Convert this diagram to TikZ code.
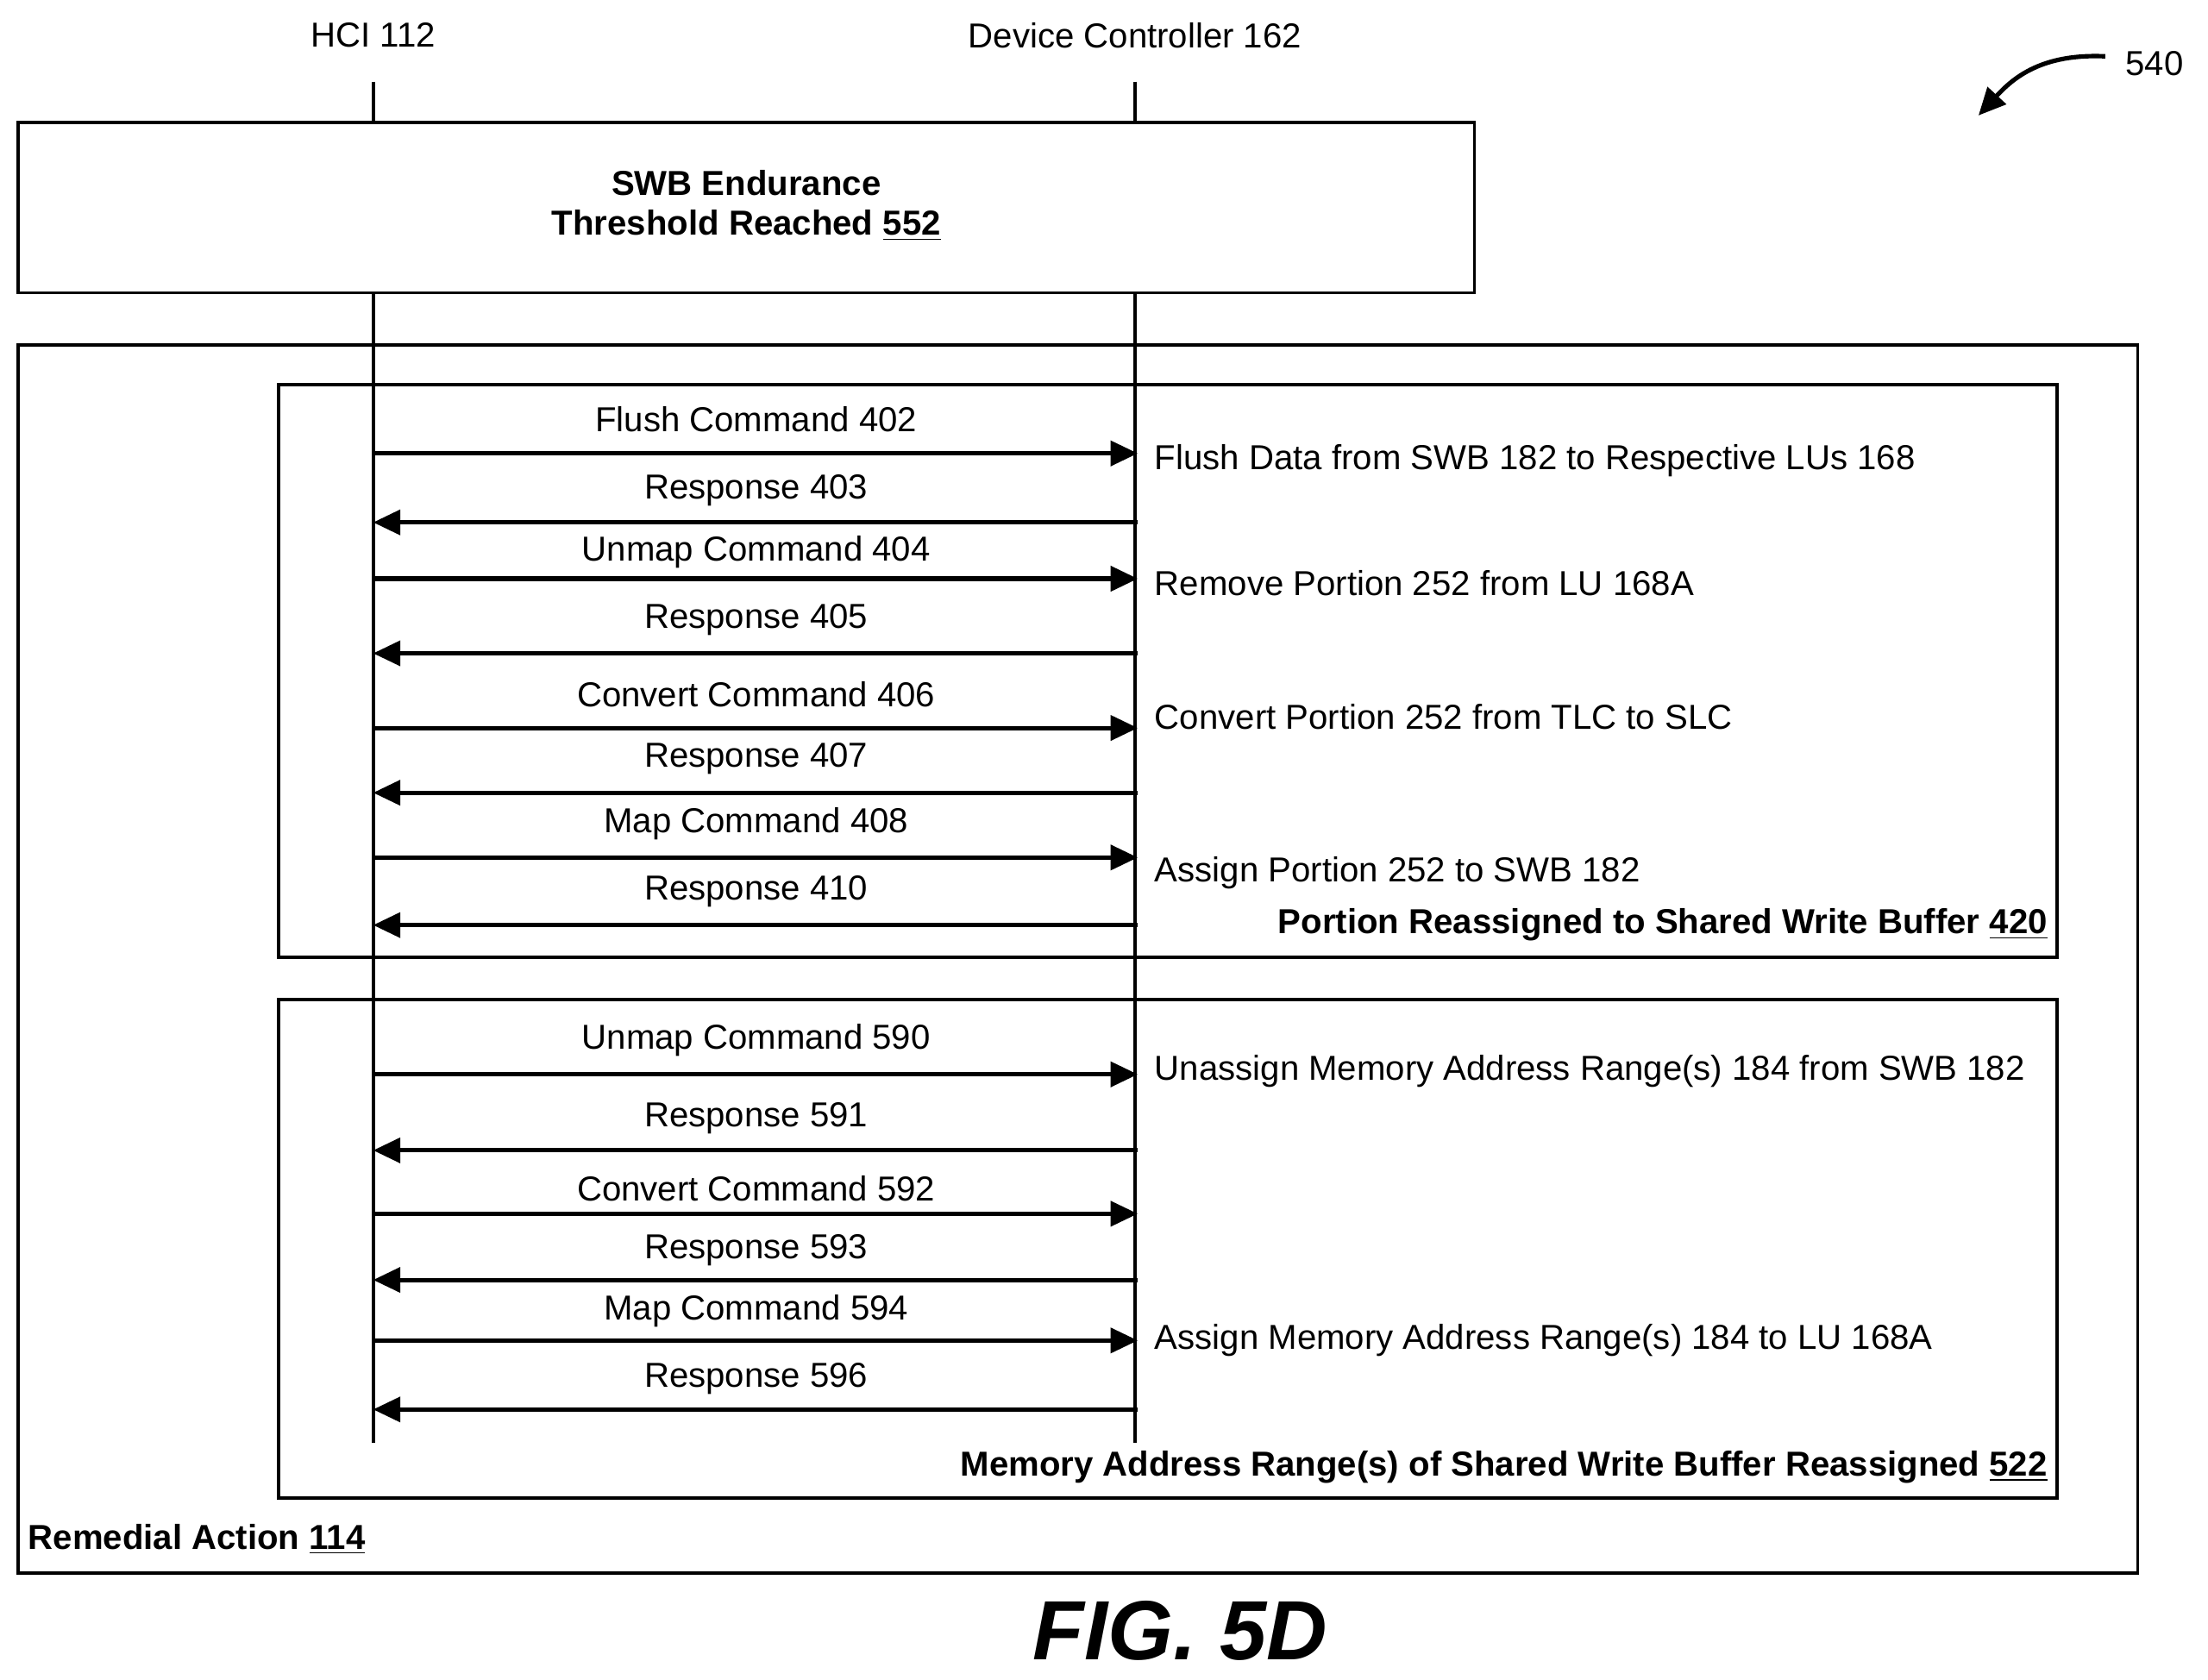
\documentclass[tikz,border=0pt]{standalone}
\usepackage{fontspec}
\setmainfont{Liberation Sans}
\usetikzlibrary{arrows.meta}
\begin{document}
\begin{tikzpicture}[x=0.02cm,y=-0.02cm,
  txt/.style={font=\fontsize{14}{16}\selectfont,inner sep=1pt},
  btxt/.style={font=\fontsize{14}{16}\selectfont\bfseries,inner sep=1pt},
  box/.style={draw,line width=1.3pt},
  msg/.style={line width=1.8pt,-{Triangle[length=11pt,width=10pt]}},
  life/.style={line width=1.3pt}]
\useasboundingbox (0,0) rectangle (1568,1193);
% headers
\node[txt] (hci) at (265,25) {HCI 112};
\node[txt] (dc) at (806,25) {Device Controller 162};
\node[txt] (n540) at (1530,45) {540};
\coordinate (a540) at (1405,82);
\draw[line width=1.8pt,-{Triangle[length=11pt,width=10pt]}] (1495,40) .. controls (1450,38) and (1430,55) .. (a540);
% boxes
\draw[box] (13,245) rectangle (1518,1117);
\draw[box] (198,273) rectangle (1461,680);
\draw[box] (198,710) rectangle (1461,1064);
\draw[box,fill=white] (13,87) rectangle (1047,208);
\node[btxt,align=center] (swb) at (530,146) {SWB Endurance\\Threshold Reached \underline{552}};
% lifelines
\coordinate (ht) at (265,58); \coordinate (hb) at (265,1025);
\coordinate (dt) at (806,58); \coordinate (db) at (806,1025);
\draw[life] (ht) -- (265,87); \draw[life] (265,208) -- (hb);
\draw[life] (dt) -- (806,87); \draw[life] (806,208) -- (db);
% messages
\foreach \y/\lab/\ly/\dir in {322/Flush Command 402/298/r, 371/Response 403/348/l, 411/Unmap Command 404/392/r, 464/Response 405/440/l, 517/Convert Command 406/493/r, 563/Response 407/539/l, 609/Map Command 408/585/r, 657/Response 410/633/l, 763/Unmap Command 590/739/r, 817/Response 591/794/l, 862/Convert Command 592/844/r, 909/Response 593/888/l, 952/Map Command 594/931/r, 1001/Response 596/979/l}{
  \coordinate (h\y) at (265,\y); \coordinate (d\y) at (808,\y);
  \if\dir r \draw[msg] (h\y) -- (d\y); \else \draw[msg] (d\y) -- (h\y); \fi
  \node[txt] (m\y) at (537,\ly) {\lab};
}
% controller actions
\node[txt,anchor=west] (t1) at (818,327) {Flush Data from SWB 182 to Respective LUs 168};
\node[txt,anchor=west] (t2) at (818,414) {Remove Portion 252 from LU 168A};
\node[txt,anchor=west] (t3) at (818,509) {Convert Portion 252 from TLC to SLC};
\node[txt,anchor=west] (t4) at (818,620) {Assign Portion 252 to SWB 182};
\node[txt,anchor=west] (t5) at (818,761) {Unassign Memory Address Range(s) 184 from SWB 182};
\node[txt,anchor=west] (t6) at (818,952) {Assign Memory Address Range(s) 184 to LU 168A};
% box labels
\node[btxt,anchor=east] (l420) at (1456,657) {Portion Reassigned to Shared Write Buffer \underline{420}};
\node[btxt,anchor=east] (l522) at (1456,1042) {Memory Address Range(s) of Shared Write Buffer Reassigned \underline{522}};
\node[btxt,anchor=west] (l114) at (18,1093) {Remedial Action \underline{114}};
% figure label
\node[font=\fontsize{34}{38}\selectfont\bfseries\itshape] (fig) at (838,1158) {FIG. 5D};
\end{tikzpicture}
\end{document}
